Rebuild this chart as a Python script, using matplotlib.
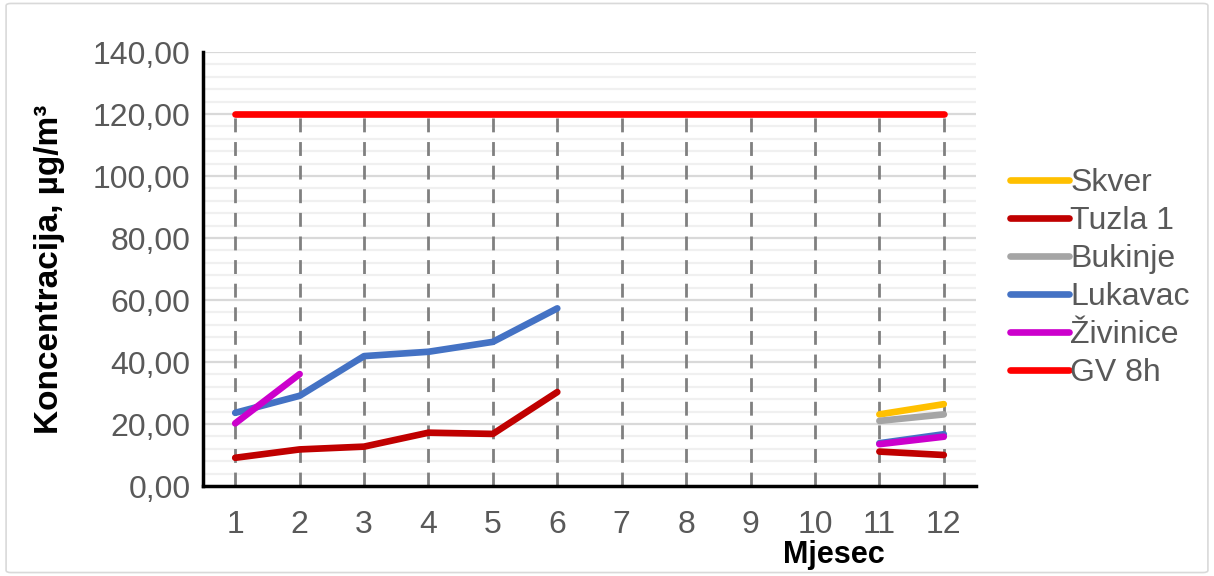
import matplotlib
matplotlib.use('Agg')
import matplotlib.pyplot as plt
from matplotlib.patches import FancyBboxPatch
import numpy as np

plt.rcParams['font.family'] = ['Liberation Sans', 'DejaVu Sans']

# monthly concentrations, ug/m3 (None = no measurement)
months = list(range(1, 13))
skver = [None] * 10 + [23.1, 26.4]
tuzla1 = [9.1, 11.8, 12.7, 17.2, 16.8, 30.3, None, None, None, None, 11.1, 10.0]
bukinje = [None] * 10 + [21.0, 23.1]
lukavac = [23.6, 29.1, 41.9, 43.3, 46.5, 57.3, None, None, None, None, 13.8, 16.7]
zivinice = [20.2, 36.1, None, None, None, None, None, None, None, None, 13.5, 15.9]
gv_8h = [120.0] * 12

series_names = ['Skver', 'Tuzla 1', 'Bukinje', 'Lukavac', 'Živinice', 'GV 8h']
series_colors = ['#FFC000', '#C00000', '#A5A5A5', '#4472C4', '#CC00CC', '#FF0000']
y_ticks = [0, 20, 40, 60, 80, 100, 120, 140]
y_labels = [f'{v:.2f}'.replace('.', ',') for v in y_ticks]

fig = plt.figure(figsize=(12.14, 5.76), dpi=100)
ax = fig.add_axes([203 / 1214, 1 - 486 / 576, (976 - 203) / 1214, (486 - 52) / 576])

# outer chart frame
fig.patches.append(FancyBboxPatch((0.005, 0.006), 0.99, 0.988,
                                  boxstyle='round,pad=0,rounding_size=0.004',
                                  transform=fig.transFigure, facecolor='none',
                                  edgecolor='#D9D9D9', linewidth=1.2))

# gridlines
for v in np.arange(4, 141, 4):
    major = v % 20 == 0
    ax.axhline(v, color='#D9D9D9' if major else '#F0F0F0', linewidth=1.6, zorder=0)

# drop lines
ax.vlines(months, 0, gv_8h, colors='#808080', linewidth=2,
          linestyles=(0, (5, 3.5)), zorder=1)

data = [skver, tuzla1, bukinje, lukavac, zivinice, gv_8h]
for name, vals, col in zip(series_names, data, series_colors):
    y = np.array([np.nan if v is None else v for v in vals], dtype=float)
    ax.plot(months, y, color=col, linewidth=4.8, solid_capstyle='round',
            solid_joinstyle='round', label=name, zorder=3)

ax.set_xlim(0.5, 12.5)
ax.set_ylim(0, 140)
ax.set_xticks(months)
ax.set_xticklabels([str(m) for m in months])
ax.set_yticks(y_ticks)
ax.set_yticklabels(y_labels)
ax.tick_params(axis='both', length=0, labelsize=23, labelcolor='#595959')
ax.tick_params(axis='x', pad=17)
ax.tick_params(axis='y', pad=9)

for s in ['top', 'right']:
    ax.spines[s].set_visible(False)
for s in ['left', 'bottom']:
    ax.spines[s].set_linewidth(2.5)
    ax.spines[s].set_color('black')

ax.set_ylabel('Koncentracija, µg/m³', fontsize=24, fontweight='bold', labelpad=20)
ax.set_xlabel('Mjesec', fontsize=22, fontweight='bold')
ax.xaxis.set_label_coords(0.816, -0.125)

leg = fig.legend(loc='center left', bbox_to_anchor=(981 / 1214, 1 - 278 / 576),
                 frameon=False, fontsize=23, handlelength=1.85, handletextpad=0.05,
                 labelspacing=0.25)
for t in leg.get_texts():
    t.set_color('#595959')
for h in leg.get_lines():
    h.set_linewidth(4.8)

fig.savefig('out.png', dpi=100)
